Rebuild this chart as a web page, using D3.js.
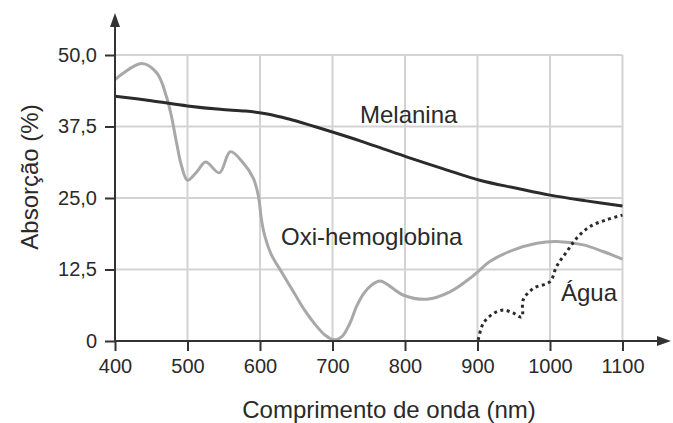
<!DOCTYPE html>
<html>
<head>
<meta charset="utf-8">
<script src="https://cdn.jsdelivr.net/npm/d3@7"></script>
<style>
  body { margin: 0; background: #fff; }
  text { font-family: "Liberation Sans", Arial, sans-serif; fill: #2a2a2a; }
</style>
</head>
<body>
<svg id="chart" width="673" height="423"></svg>
<script>
// dados
const xTicks = [400, 500, 600, 700, 800, 900, 1000, 1100];
const yTicks = [0, 12.5, 25, 37.5, 50];
const yTickLabels = ["0", "12,5", "25,0", "37,5", "50,0"];

const melaninaX = [400, 450, 500, 545, 580, 610, 640, 670, 701, 738, 770, 802, 853, 903, 954, 1000, 1050, 1100];
const melaninaY = [42.8, 42.0, 41.1, 40.5, 40.2, 39.7, 38.8, 37.7, 36.5, 35.0, 33.6, 32.2, 30.1, 28.1, 26.7, 25.5, 24.5, 23.6];

const oxiX = [400, 437, 458, 471, 478, 485, 492, 500, 513, 525, 544, 559, 577, 591, 598, 602, 607, 616, 632, 648, 662, 676, 690, 702, 713, 724, 733, 743, 754, 766, 798, 830, 862, 890, 903, 917, 949, 982, 1009, 1046, 1074, 1100];
const oxiY = [45.7, 48.5, 46.8, 42.7, 39.2, 34.6, 30.5, 28.1, 29.6, 31.3, 29.4, 33.1, 31.1, 28.4, 25.2, 21.2, 18.2, 15.0, 11.6, 8.2, 5.3, 2.9, 1.0, 0.2, 0.75, 3.1, 6.0, 8.3, 9.8, 10.5, 8.0, 7.3, 8.6, 11.0, 12.4, 13.9, 15.9, 17.1, 17.4, 16.8, 15.6, 14.3];

const aguaX = [901, 908, 922, 936, 949, 961, 963, 977, 1000, 1009, 1023, 1037, 1055, 1078, 1100];
const aguaY = [0.2, 3.1, 4.8, 5.4, 4.9, 4.2, 7.2, 9.2, 10.4, 13.0, 15.6, 18.0, 20.0, 21.2, 22.0];

const svg = d3.select("#chart");

const x = d3.scaleLinear().domain([400, 1100]).range([115, 622.5]);
const y = d3.scaleLinear().domain([0, 50]).range([341, 55]);

// GRADE
svg.append("g")
  .selectAll("line")
  .data(xTicks.slice(1))
  .join("line")
    .attr("x1", d => x(d)).attr("x2", d => x(d))
    .attr("y1", y(0)).attr("y2", y(50))
    .attr("stroke", "#d3d3d3").attr("stroke-width", 2);

svg.append("g")
  .selectAll("line")
  .data(yTicks.slice(1))
  .join("line")
    .attr("x1", x(400)).attr("x2", x(1100))
    .attr("y1", d => y(d)).attr("y2", d => y(d))
    .attr("stroke", "#d3d3d3").attr("stroke-width", 2);

// CURVAS
const toPts = (xs, ys) => xs.map((v, i) => [v, ys[i]]);
const line = d3.line()
  .x(d => x(d[0]))
  .y(d => y(d[1]))
  .curve(d3.curveCatmullRom.alpha(0.5));

svg.append("path")
  .attr("d", line(toPts(oxiX, oxiY)))
  .attr("fill", "none")
  .attr("stroke", "#a8a8a8")
  .attr("stroke-width", 3);

svg.append("path")
  .attr("d", line(toPts(melaninaX, melaninaY)))
  .attr("fill", "none")
  .attr("stroke", "#2b2b2b")
  .attr("stroke-width", 3);

svg.append("path")
  .attr("d", line(toPts(aguaX, aguaY)))
  .attr("fill", "none")
  .attr("stroke", "#2b2b2b")
  .attr("stroke-width", 3)
  .attr("stroke-dasharray", "3,3.5");

// EIXOS
const axisColor = "#333";
const yAxis = svg.append("g")
  .attr("transform", `translate(${x(400)},0)`)
  .call(d3.axisLeft(y).tickValues(yTicks).tickSize(10).tickPadding(8)
    .tickFormat((d, i) => yTickLabels[i]));
yAxis.select(".domain").remove();
yAxis.selectAll("line").attr("stroke", axisColor).attr("stroke-width", 2);
yAxis.selectAll("text").attr("font-size", 20).attr("fill", "#2a2a2a")
  .attr("font-family", "Liberation Sans, Arial, sans-serif");

const xAxis = svg.append("g")
  .attr("transform", `translate(0,${y(0)})`)
  .call(d3.axisBottom(x).tickValues(xTicks).tickSize(10).tickPadding(8)
    .tickFormat(d3.format("d")));
xAxis.select(".domain").remove();
xAxis.selectAll("line").attr("stroke", axisColor).attr("stroke-width", 2);
xAxis.selectAll("text").attr("font-size", 20).attr("fill", "#2a2a2a")
  .attr("font-family", "Liberation Sans, Arial, sans-serif");

// linhas dos eixos com setas
svg.append("line")
  .attr("x1", x(400)).attr("x2", x(400))
  .attr("y1", y(0) + 1).attr("y2", 22)
  .attr("stroke", axisColor).attr("stroke-width", 2);
svg.append("path")
  .attr("d", `M${x(400)},13 L${x(400) - 5},27 L${x(400) + 5},27 Z`)
  .attr("fill", axisColor);

svg.append("line")
  .attr("x1", x(400) - 1).attr("x2", 662)
  .attr("y1", y(0)).attr("y2", y(0))
  .attr("stroke", axisColor).attr("stroke-width", 2);
svg.append("path")
  .attr("d", `M671,${y(0)} L657,${y(0) - 5} L657,${y(0) + 5} Z`)
  .attr("fill", axisColor);

// TÍTULOS
svg.append("text")
  .attr("x", 389).attr("y", 418)
  .attr("text-anchor", "middle")
  .attr("font-size", 24)
  .text("Comprimento de onda (nm)");

svg.append("text")
  .attr("transform", "translate(38,177) rotate(-90)")
  .attr("text-anchor", "middle")
  .attr("font-size", 24)
  .text("Absorção (%)");

// RÓTULOS DAS CURVAS
svg.append("text").attr("x", 360).attr("y", 123).attr("font-size", 24).text("Melanina");
svg.append("text").attr("x", 281).attr("y", 245).attr("font-size", 24).text("Oxi-hemoglobina");
svg.append("text").attr("x", 561).attr("y", 301).attr("font-size", 24).text("Água");
</script>
</body>
</html>
